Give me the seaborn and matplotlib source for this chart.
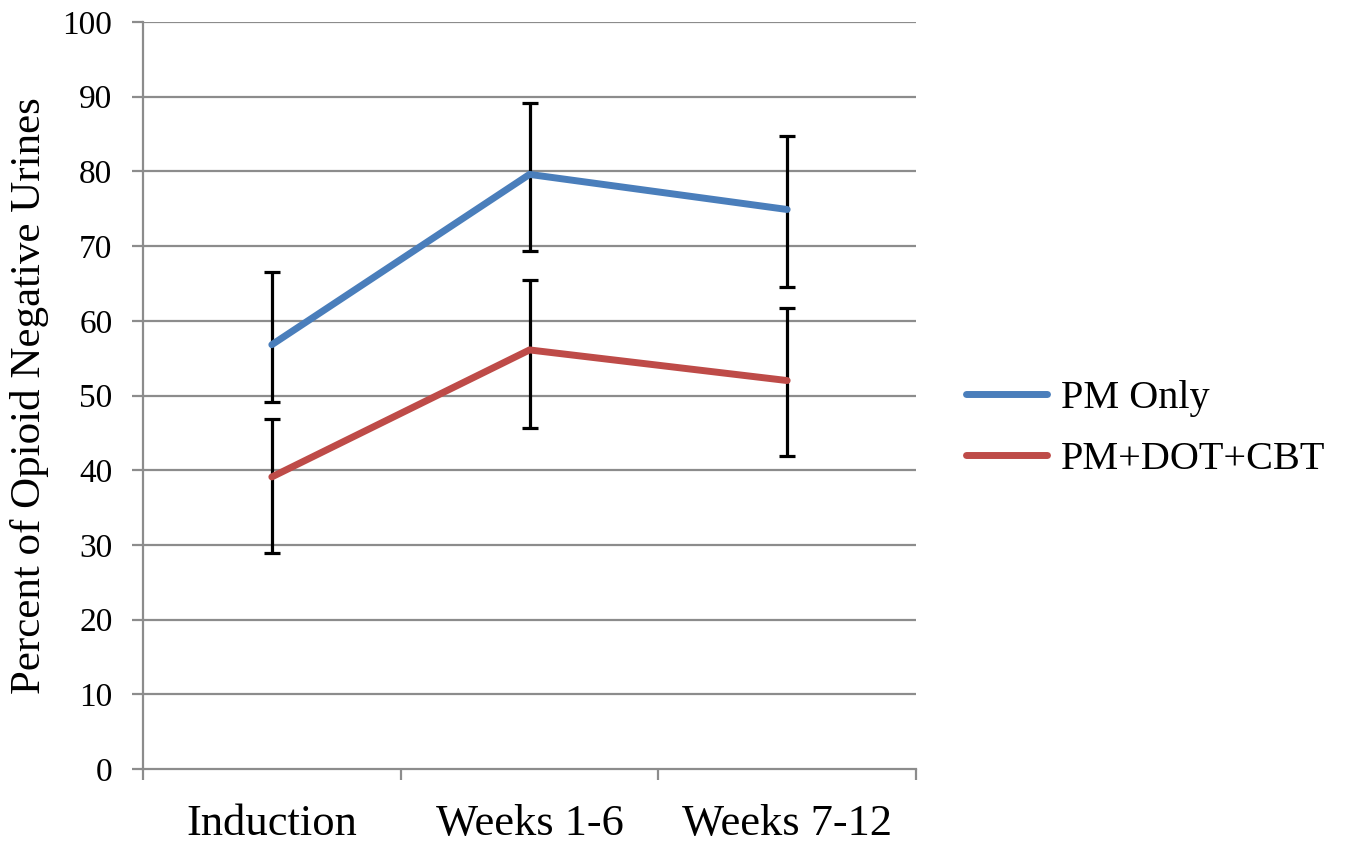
import numpy as np
import pandas as pd
import matplotlib
matplotlib.use("Agg")
import matplotlib.pyplot as plt
import seaborn as sns
from matplotlib.lines import Line2D

# values
periods = ["Induction", "Weeks 1-6", "Weeks 7-12"]
groups = ["PM Only", "PM+DOT+CBT"]
pm_only = [56.8, 79.6, 74.9]
pm_only_low = [49.1, 69.4, 64.5]
pm_only_high = [66.5, 89.2, 84.7]
pm_dot_cbt = [39.1, 56.1, 52.0]
pm_dot_cbt_low = [28.9, 45.7, 41.9]
pm_dot_cbt_high = [46.8, 65.5, 61.7]
colors = ["#4A7EBB", "#BE4B48"]

sns.set_theme(style="white")
plt.rcParams["font.family"] = ["Liberation Serif", "DejaVu Serif"]
plt.rcParams["text.color"] = "black"
plt.rcParams["axes.labelcolor"] = "black"

df = pd.DataFrame({
    "x": list(range(3)) * 2,
    "value": pm_only + pm_dot_cbt,
    "group": [groups[0]] * 3 + [groups[1]] * 3,
})

fig = plt.figure(figsize=(13.48, 8.44), dpi=100)
ax = fig.add_axes([143 / 1348, 75 / 844, 773 / 1348, 747 / 844])

grid_c = "#8C8C8C"
for v in range(10, 101, 10):
    ax.axhline(v, color=grid_c, lw=1.6, zorder=0)

# error bars first so lines sit on top
for vals, lo, hi in [(pm_only, pm_only_low, pm_only_high),
                     (pm_dot_cbt, pm_dot_cbt_low, pm_dot_cbt_high)]:
    vals = np.array(vals)
    yerr = np.vstack([vals - np.array(lo), np.array(hi) - vals])
    ax.errorbar(range(3), vals, yerr=yerr, fmt="none", ecolor="black",
                elinewidth=2.3, capsize=5.8, capthick=2.3, zorder=3)

sns.lineplot(data=df, x="x", y="value", hue="group", palette=colors,
             linewidth=5, ax=ax, legend=False, zorder=4,
             solid_capstyle="round")

ax.set_xlim(-0.5, 2.5)
ax.set_ylim(0, 100)
ax.set_yticks(range(0, 101, 10))
ax.set_xticks(range(3))
ax.set_xticklabels(periods)
ax.set_xticks([-0.5, 0.5, 1.5, 2.5], minor=True)
ax.tick_params(axis="x", which="major", length=0, pad=25, labelsize=32,
               labelcolor="black")
ax.tick_params(axis="x", which="minor", length=8, width=1.6, color=grid_c,
               direction="out", bottom=True)
ax.tick_params(axis="y", length=8, width=1.6, color=grid_c, direction="out",
               left=True, pad=14, labelsize=24, labelcolor="black")
for s in ["top", "right"]:
    ax.spines[s].set_visible(False)
for s in ["left", "bottom"]:
    ax.spines[s].set_color(grid_c)
    ax.spines[s].set_linewidth(1.6)
ax.set_xlabel("")
ax.set_ylabel("Percent of Opioid Negative Urines", fontsize=31, labelpad=10)

handles = [Line2D([0], [0], color=c, lw=5, solid_capstyle="round") for c in colors]
fig.legend(handles, groups, loc="center left", bbox_to_anchor=(966 / 1348, 1 - 429 / 844),
           frameon=False, fontsize=29, handlelength=2.0, handletextpad=0.35,
           labelspacing=0.6, borderpad=0, borderaxespad=0)

fig.savefig("out.png", dpi=100)
